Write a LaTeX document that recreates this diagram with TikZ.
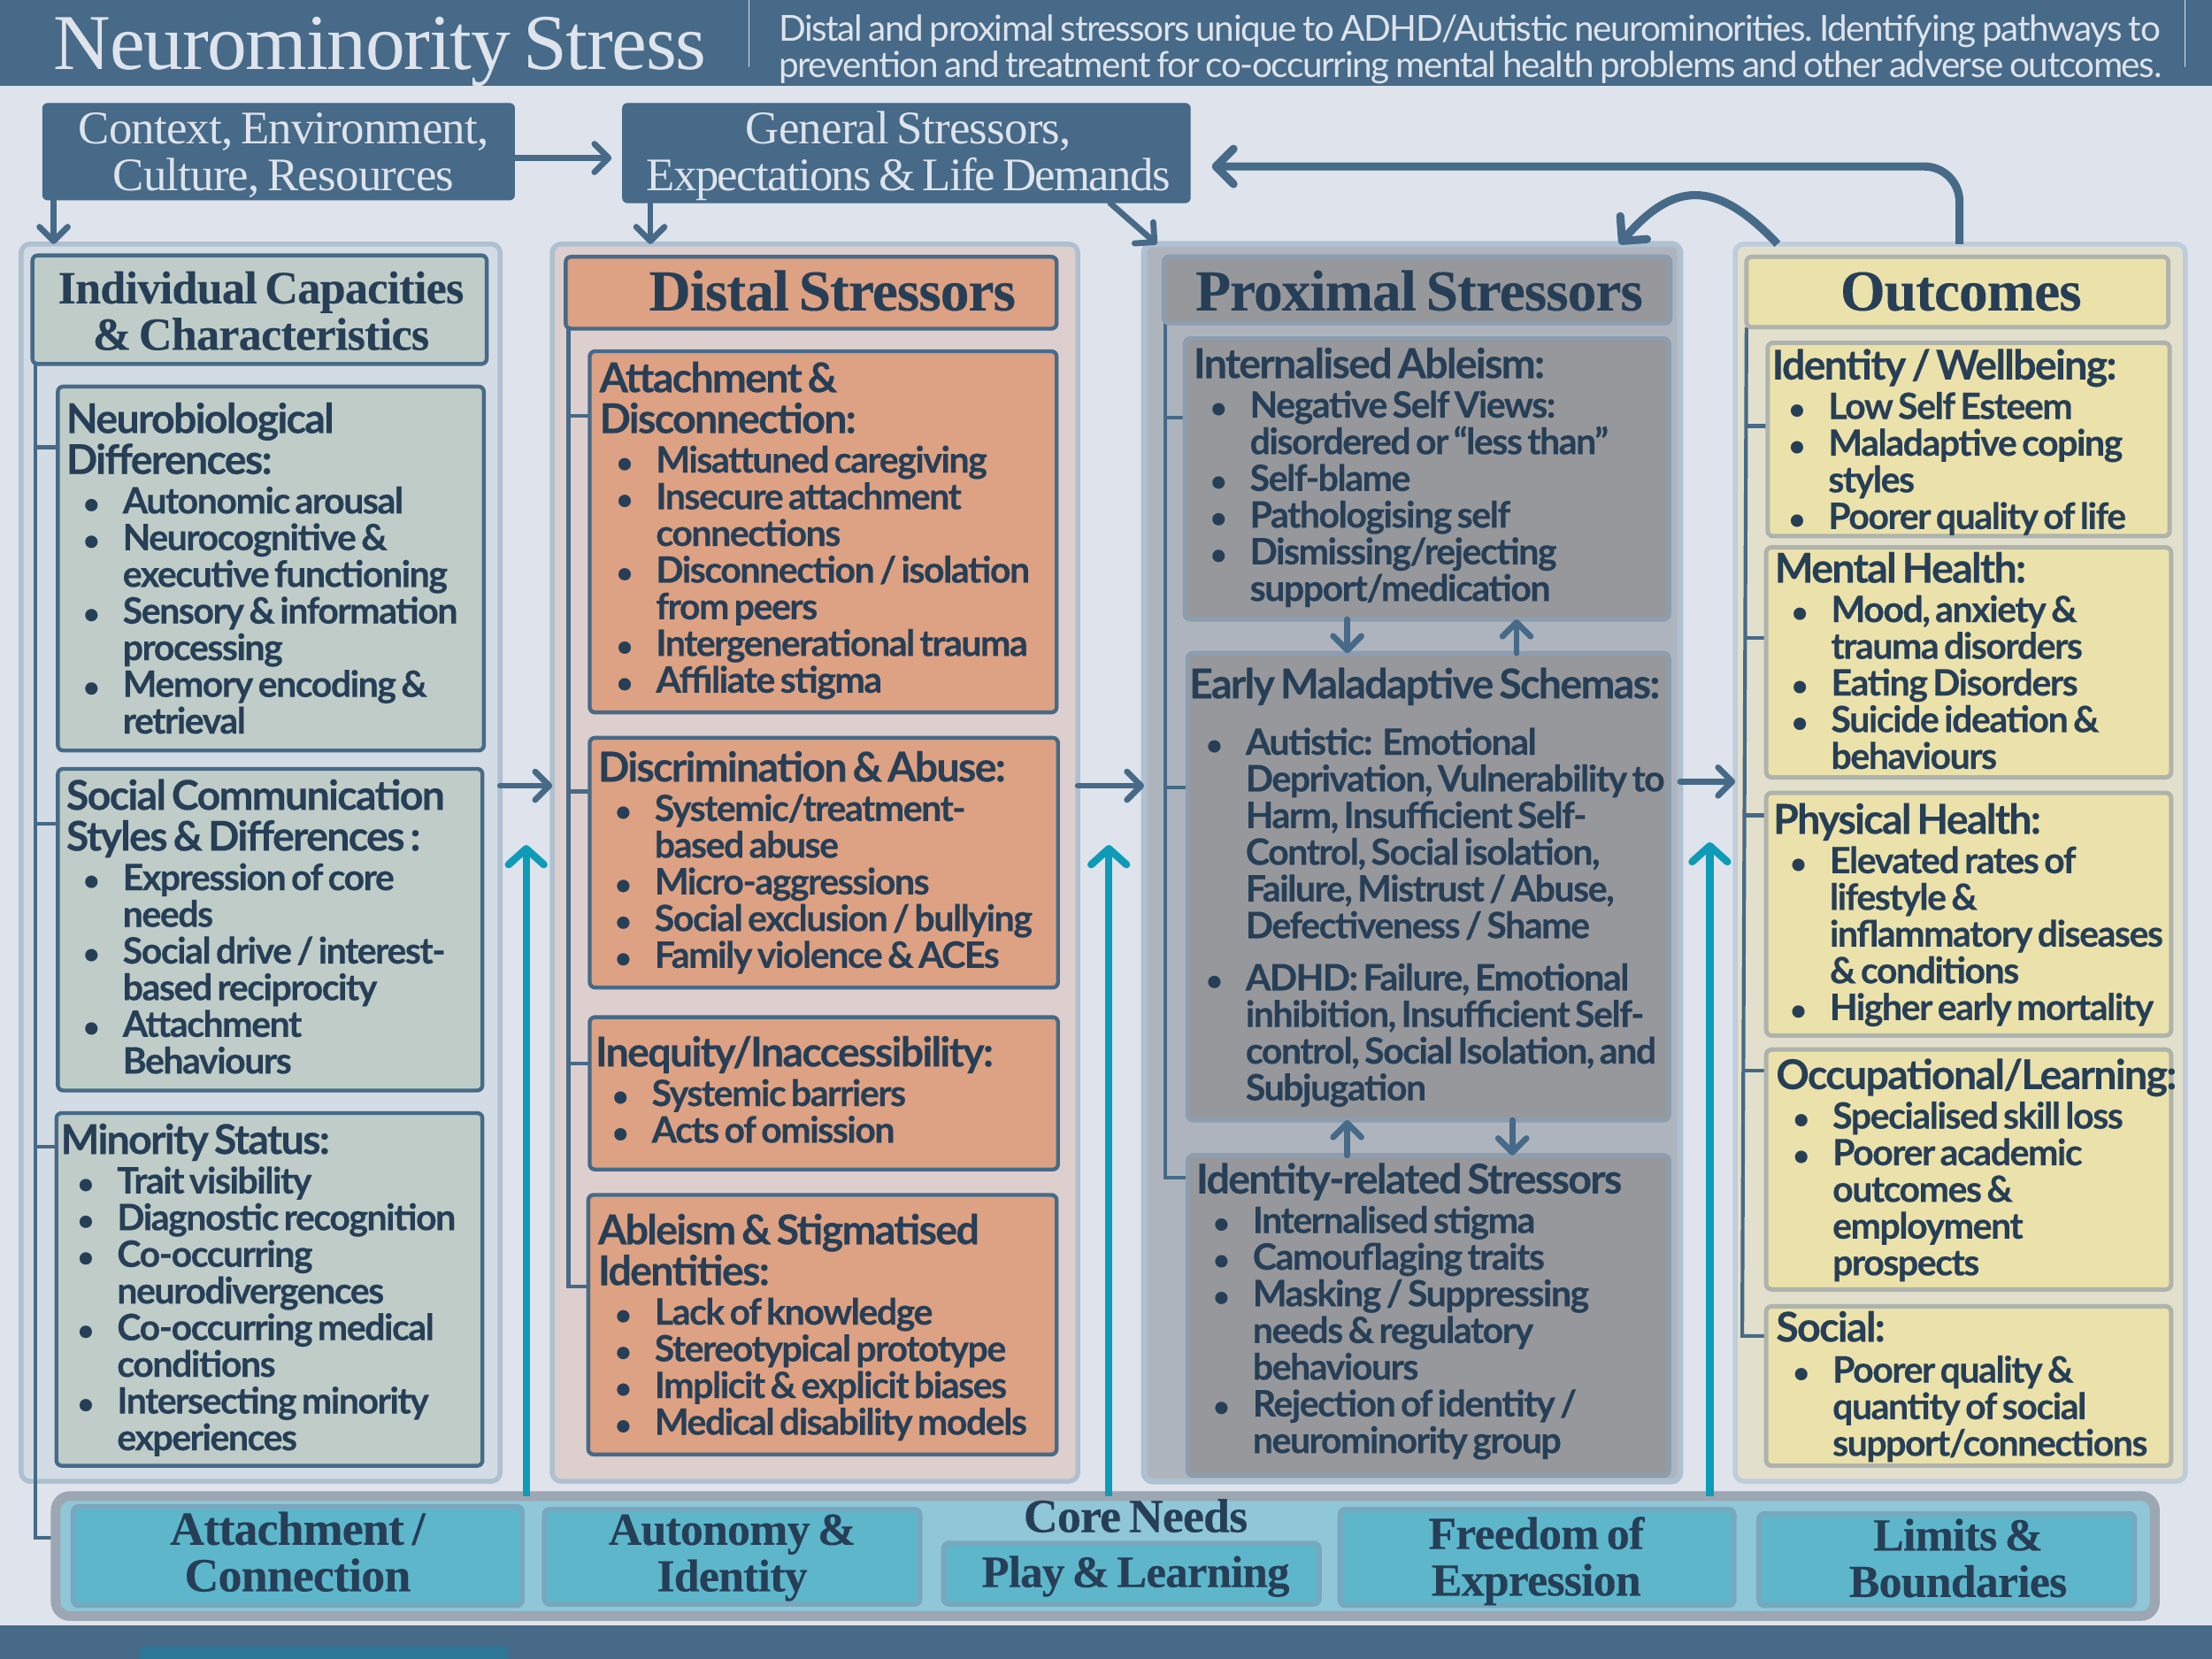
\documentclass[tikz,border=0pt]{standalone}
\usepackage{fontspec}
\usetikzlibrary{arrows.meta}
\setmainfont{Lato}
\newfontfamily\lat[LetterSpace=-3.6,WordSpace=0.62,BoldFeatures={FakeBold=0.25}]{Lato}
\newfontfamily\sub[LetterSpace=-3.5,WordSpace=0.75]{Lato}
\newfontfamily\ser[LetterSpace=-1.5,WordSpace=0.7,BoldFeatures={FakeBold=0.2}]{Liberation Serif}
\frenchspacing
\newdimen\U \U=0.8pt
\newdimen\tbs \tbs=29\U
\definecolor{barc}{HTML}{466A87}
\definecolor{bgc}{HTML}{DEE3EC}
\definecolor{ink}{HTML}{263F56}
\definecolor{lite}{HTML}{DEE3EC}
\definecolor{indout}{HTML}{D3DCE4}
\definecolor{outb}{HTML}{AFC0D0}
\definecolor{green}{HTML}{BFCCC8}
\definecolor{distout}{HTML}{DDCFCD}
\definecolor{orange}{HTML}{DDA183}
\definecolor{proxout}{HTML}{AEB4BE}
\definecolor{proxin}{HTML}{97989C}
\definecolor{proxb}{HTML}{8C9DAE}
\definecolor{yelout}{HTML}{E2E0CC}
\definecolor{yelb}{HTML}{BFCCDC}
\definecolor{yel}{HTML}{EBE1AB}
\definecolor{yelbb}{HTML}{AEB3AC}
\definecolor{coreo}{HTML}{8FC6D8}
\definecolor{coreb}{HTML}{9CA7B3}
\definecolor{corei}{HTML}{5EB6CB}
\definecolor{coreib}{HTML}{78A8BE}
\definecolor{teal}{HTML}{0E9BB7}
\definecolor{deep}{HTML}{2C7696}
\newcommand\nl{\hfil\break}
% left-aligned box: style,name,x1,y1,x2,y2,text x,first baseline y,content
\newcommand\bx[9]{\node[#1] (#2) at (#3,#4) {\hbox to \dimexpr#5\U-#3\U\relax{\vbox to \dimexpr#6\U-#4\U\relax{\hsize=1000pt \parindent=0pt \parskip=0pt \leftskip=\dimexpr#7\U-#3\U\relax \rightskip=0pt plus 1fil \parfillskip=0pt plus 1fil \lineskiplimit=-1000pt \vskip\dimexpr#8\U-#4\U-\tbs+1\U\relax \hbox{}\prevdepth=0pt #9\vss}\hss}};}
% centred box: style,name,x1,y1,x2,y2,centre x,first baseline y,content
\newcommand\cx[9]{\node[#1] (#2) at (#3,#4) {\hbox to \dimexpr#5\U-#3\U\relax{\hskip\dimexpr#7\U-#3\U-500pt\relax\vbox to \dimexpr#6\U-#4\U\relax{\let\nl\break\hsize=1000pt \parindent=0pt \parskip=0pt \leftskip=0pt plus 1fil \rightskip=0pt plus 1fil \parfillskip=0pt \lineskiplimit=-1000pt \vskip\dimexpr#8\U-#4\U-\tbs-3\U\relax \hbox{}\prevdepth=0pt #9\vss}\hss}};}
\newcommand\ttl[1]{{\lat\bfseries\fontsize{23.3pt}{29\U}\selectfont #1\par}\vskip 2\U}
\newcommand\bu[1]{{\lat\bfseries\fontsize{20.6pt}{26\U}\selectfont\hangindent=40\U\hangafter=1 \noindent\hbox to 40\U{\hskip 12\U{\fontsize{16pt}{16pt}\selectfont\textbullet}\hss}#1\par}}
\newcommand\head[2]{{\ser\bfseries\fontsize{#1}{33\U}\selectfont #2\par}}
\newcommand\hlite[1]{{\ser\fontsize{26.5pt}{33\U}\selectfont #1\par}}
\tikzset{
 pic/.style={x=0.8pt,y=-0.8pt},
 basebox/.style={anchor=north west,inner sep=0pt,outer sep=0pt,text=ink,rounded corners=3pt,line width=2.2pt},
 indo/.style={draw=outb,fill=indout,line width=2.8pt,rounded corners=5pt},
 disto/.style={draw=outb,fill=distout,line width=2.8pt,rounded corners=5pt},
 proxo/.style={draw=outb,fill=proxout,line width=3.5pt,rounded corners=5pt},
 yelo/.style={draw=yelb,fill=yelout,line width=2.8pt,rounded corners=5pt},
 gbox/.style={basebox,draw=barc,fill=green},
 obox/.style={basebox,draw=barc,fill=orange},
 pbox/.style={basebox,draw=proxb,fill=proxin,line width=2.6pt},
 ybox/.style={basebox,draw=yelbb,fill=yel,line width=2.5pt},
 cbox/.style={basebox,draw=coreib,fill=corei,line width=3pt},
 coreout/.style={basebox,draw=coreb,fill=coreo,line width=5.5pt,rounded corners=8pt},
 topbox/.style={basebox,fill=barc,text=lite},
 arr/.style={draw=barc,line width=3.4pt,line cap=round,-{Straight Barb[length=8pt,width=16pt,round]}},
 bigarr/.style={draw=barc,line width=4.6pt,line cap=butt,-{Straight Barb[length=10pt,width=20pt,round]}},
 tealarr/.style={draw=teal,line width=4.2pt,-{Straight Barb[length=9pt,width=20pt,round]}},
 brk/.style={draw=barc,line width=2.1pt},
 plain/.style={anchor=north west,inner sep=0pt,outer sep=0pt},
}
\begin{document}
\begin{tikzpicture}[pic]
\useasboundingbox (0,0) rectangle (1568,1176);
\fill[bgc] (0,0) rectangle (1568,1176);
\node[plain,fill=barc,minimum width=1254.4pt,minimum height=48.8pt] (hdr) at (0,0) {};
\node[plain,fill=barc,minimum width=1254.4pt,minimum height=19.2pt] (foot) at (0,1152) {};
\node[plain,fill=deep,rounded corners=2pt,minimum width=209pt,minimum height=8pt] (tab) at (99,1167) {};
\node[anchor=base west,inner sep=0pt,text=lite] (maintitle) at (38,49) {\ser\fontsize{44.9pt}{46pt}\selectfont Neurominority Stress};
\node[plain,draw=lite,line width=0.7pt,minimum width=0pt,minimum height=38pt,inner sep=0pt] (sepa) at (531,0) {};
\node[plain,draw=lite,line width=0.7pt,minimum width=0pt,minimum height=38pt,inner sep=0pt] (sepb) at (1549,0) {};
\bx{plain,text=lite}{subt}{552}{0}{1540}{60}{552}{31}{{\sub\fontsize{20.3pt}{26\U}\selectfont Distal and proximal stressors unique to ADHD/Autistic neurominorities. Identifying pathways to\nl prevention and treatment for co-occurring mental health problems and other adverse outcomes.\par}}

% columns
\node[basebox,indo,minimum width=271.6pt,minimum height=701.6pt] (indcol) at (15,173) {};
\node[basebox,disto,minimum width=298pt,minimum height=701.6pt] (distcol) at (391.5,173) {};
\node[basebox,proxo,minimum width=304pt,minimum height=701.6pt] (proxcol) at (811,173) {};
\node[basebox,yelo,minimum width=255.2pt,minimum height=701.6pt] (outcol) at (1230,173) {};

% top boxes
\cx{topbox}{ctx}{30}{73}{365}{142}{201}{101}{\hlite{Context, Environment,\nl Culture, Resources}}
\cx{topbox}{gen}{441}{73}{844}{144}{644}{101}{\hlite{General Stressors,\nl {\addfontfeature{LetterSpace=-3.2}Expectations \& Life Demands}}}

% brackets (under boxes)
\draw[brk] (25,258) |- (40,1090) coordinate (brkcore);
\draw[brk] (25,317) -- (41,317) coordinate (t1);
\draw[brk] (25,584) -- (41,584) coordinate (t2);
\draw[brk] (25,813) -- (40,813) coordinate (t3);
\draw[brk] (403,233) |- (417,912) coordinate (t4);
\draw[brk] (403,295) -- (418,295) coordinate (t5);
\draw[brk] (403,561) -- (418,561) coordinate (t6);
\draw[brk] (403,754) -- (418,754) coordinate (t7);
\draw[brk] (826,229) |- (841,835) coordinate (t8);
\draw[brk] (826,296) -- (839,296) coordinate (t9);
\draw[brk] (826,558) -- (841,558) coordinate (t10);
\draw[brk] (1238,232) -- (1235,947) -- (1252,947) coordinate (t11);
\draw[brk] (1238,302) -- (1253,302) coordinate (t12);
\draw[brk] (1237,452) -- (1252,452) coordinate (t13);
\draw[brk] (1236,578) -- (1252,578) coordinate (t14);
\draw[brk] (1236,759) -- (1252,759) coordinate (t15);

% individual
\cx{gbox}{indt}{23}{181}{345}{258}{185}{214}{\head{26.2pt}{Individual Capacities\nl \& Characteristics}}
\bx{gbox}{neu}{41}{274}{343}{532}{47}{306}{\ttl{Neurobiological\nl Differences:}\bu{Autonomic arousal}\bu{Neurocognitive \&\nl executive functioning}\bu{Sensory \& information\nl processing}\bu{Memory encoding \&\nl retrieval}}
\bx{gbox}{soc}{41}{545}{342}{773}{47}{573}{\ttl{Social Communication\nl Styles \& Differences :}\bu{Expression of core\nl needs}\bu{Social drive / interest-\nl based reciprocity}\bu{Attachment\nl Behaviours}}
\bx{gbox}{mino}{40}{789}{342}{1039}{43}{817}{\ttl{Minority Status:}\bu{Trait visibility}\bu{Diagnostic recognition}\bu{Co-occurring\nl neurodivergences}\bu{Co-occurring medical\nl conditions}\bu{Intersecting minority\nl experiences}}

% distal
\cx{obox}{distt}{401}{182}{749}{233}{590}{219}{\head{32.8pt}{Distal Stressors}}
\bx{obox}{att}{418}{249}{749}{505}{425}{277}{\ttl{Attachment \&\nl Disconnection:}\bu{Misattuned caregiving}\bu{Insecure attachment\nl connections}\bu{Disconnection / isolation\nl from peers}\bu{Intergenerational trauma}\bu{Affiliate stigma}}
\bx{obox}{disc}{418}{523}{750}{700}{424}{553}{\ttl{Discrimination \& Abuse:}\bu{Systemic/treatment-\nl based abuse}\bu{Micro-aggressions}\bu{Social exclusion / bullying}\bu{Family violence \& ACEs}}
\bx{obox}{ineq}{418}{721}{750}{829}{422}{755}{\ttl{Inequity/Inaccessibility:}\bu{Systemic barriers}\bu{Acts of omission}}
\bx{obox}{able}{417}{847}{749}{1031}{424}{881}{\ttl{Ableism \& Stigmatised\nl Identities:}\bu{Lack of knowledge}\bu{Stereotypical prototype}\bu{Implicit \& explicit biases}\bu{Medical disability models}}

% proximal
\cx{pbox}{proxt}{825}{182}{1184}{229}{1006}{219}{\head{32.8pt}{Proximal Stressors}}
\bx{pbox}{inter}{840}{240}{1183}{439}{846}{267}{\ttl{Internalised Ableism:}\bu{Negative Self Views:\nl disordered or “less than”}\bu{Self-blame}\bu{Pathologising self}\bu{Dismissing/rejecting\nl support/medication}}
\bx{pbox}{early}{842}{463}{1183}{794}{843}{494}{\ttl{Early Maladaptive Schemas:}\vskip 12\U\bu{Autistic:\ \ Emotional\nl Deprivation, Vulnerability to\nl Harm, Insufficient Self-\nl Control, Social isolation,\nl Failure, Mistrust / Abuse,\nl Defectiveness / Shame}\vskip 11\U\bu{ADHD: Failure, Emotional\nl inhibition, Insufficient Self-\nl control, Social Isolation, and\nl Subjugation}}
\bx{pbox}{idr}{842}{819}{1183}{1046}{848}{845}{\ttl{Identity-related Stressors}\bu{Internalised stigma}\bu{Camouflaging traits}\bu{Masking / Suppressing\nl needs \& regulatory\nl behaviours}\bu{Rejection of identity /\nl neurominority group}}

% outcomes
\cx{ybox}{outt}{1238}{182}{1537}{232}{1390}{219}{\head{32.8pt}{Outcomes}}
\bx{ybox}{iw}{1253}{243}{1538}{380}{1256}{268}{\ttl{Identity / Wellbeing:}\bu{Low Self Esteem}\bu{Maladaptive coping\nl styles}\bu{Poorer quality of life}}
\bx{ybox}{mh}{1252}{388}{1539}{551}{1258}{412}{\ttl{Mental Health:}\bu{Mood, anxiety \&\nl trauma disorders}\bu{Eating Disorders}\bu{Suicide ideation \&\nl behaviours}}
\bx{ybox}{ph}{1252}{562}{1539}{734}{1257}{590}{\ttl{Physical Health:}\bu{Elevated rates of\nl lifestyle \&\nl inflammatory diseases\nl \& conditions}\bu{Higher early mortality}}
\bx{ybox}{occ}{1252}{744}{1539}{914}{1259}{771}{\ttl{Occupational/Learning:}\bu{Specialised skill loss}\bu{Poorer academic\nl outcomes \&\nl employment\nl prospects}}
\bx{ybox}{soco}{1252}{926}{1539}{1039}{1259}{950}{\ttl{Social:}\vskip 1\U\bu{Poorer quality \&\nl quantity of social\nl support/connections}}

% core needs
\cx{coreout}{core}{39.5}{1060.5}{1527.5}{1145.5}{805}{1085}{\head{27pt}{Core Needs}}
\cx{cbox}{c1}{52}{1068}{370}{1138}{211}{1094}{\head{27pt}{Attachment /\nl Connection}}
\cx{cbox}{c2}{386}{1070}{652}{1137}{519}{1094}{\head{26pt}{Autonomy \&\nl Identity}}
\cx{cbox}{c3}{669}{1094}{935}{1137}{805}{1124}{\head{25.5pt}{Play \& Learning}}
\cx{cbox}{c4}{950}{1070}{1229}{1138}{1089}{1097}{\head{26pt}{Freedom of\nl Expression}}
\cx{cbox}{c5}{1247}{1073}{1513}{1138}{1388}{1098}{\head{26pt}{Limits \&\nl Boundaries}}

% connectors
\draw[arr,shorten >=6pt] (ctx.east |- 0,112) -- (gen.west |- 0,112);
\draw[arr] (ctx.south -| 38,0) -- (indcol.north -| 38,0);
\draw[arr] (gen.south -| 461,0) -- (distcol.north -| 461,0);
\draw[arr] (gen.south -| 787,0) -- (proxcol.north -| 820,0);
\draw[bigarr,rounded corners=20pt,shorten >=12pt] (outcol.north -| 1389,0) |- (gen.east |- 0,118);
\draw[bigarr] (outcol.north -| 1260,0) .. controls (1215,125) and (1185,130) .. (proxcol.north -| 1148,0);
\draw[arr] (indcol.east |- 0,557) -- (distcol.west |- 0,557);
\draw[arr] (distcol.east |- 0,557) -- (proxcol.west |- 0,557);
\draw[arr] (proxcol.east |- 0,554) -- (outcol.west |- 0,554);
\draw[arr] (inter.south -| 955,0) -- (early.north -| 955,0);
\draw[arr] (early.north -| 1075,0) -- (inter.south -| 1075,0);
\draw[arr] (idr.north -| 955,0) -- (early.south -| 955,0);
\draw[arr] (early.south -| 1072,0) -- (idr.north -| 1072,0);
\draw[tealarr] (core.north -| 373,0) -- (373,599) coordinate (ta);
\draw[tealarr] (core.north -| 786,0) -- (786,599) coordinate (tb);
\draw[tealarr] (core.north -| 1212,0) -- (1212,597) coordinate (tc);
\end{tikzpicture}
\end{document}
